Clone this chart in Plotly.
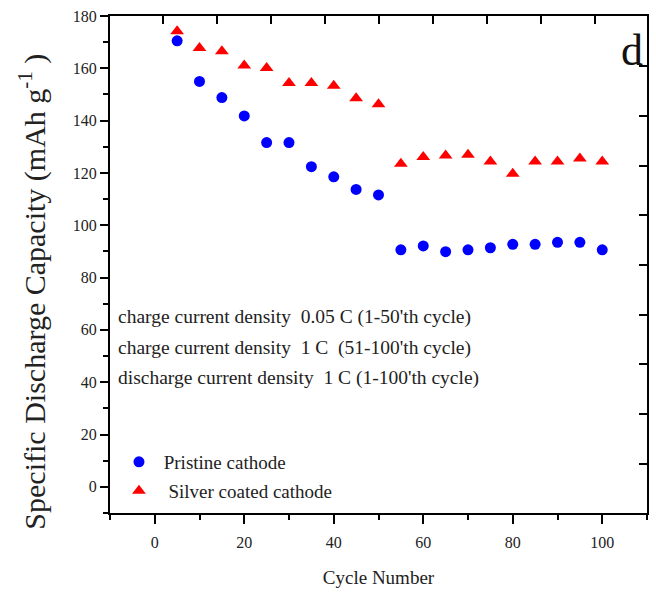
import plotly.graph_objects as go

cycles = [5, 10, 15, 20, 25, 30, 35, 40, 45, 50, 55, 60, 65, 70, 75, 80, 85, 90, 95, 100]
pristine = [170.5, 155.0, 148.8, 141.8, 131.6, 131.6, 122.4, 118.5, 113.7, 111.6,
            90.6, 92.1, 89.9, 90.6, 91.4, 92.7, 92.7, 93.5, 93.5, 90.6]
silver = [174.2, 167.8, 166.5, 161.1, 160.1, 154.4, 154.4, 153.3, 148.6, 146.3,
          123.5, 126.1, 126.7, 127.0, 124.4, 119.7, 124.4, 124.4, 125.5, 124.4]

notes = ["charge current density  0.05 C (1-50'th cycle)",
         "charge current density  1 C  (51-100'th cycle)",
         "discharge current density  1 C (1-100'th cycle)"]

FONT = "Liberation Serif, Times New Roman, serif"
TXT = "#222222"

fig = go.Figure()
fig.add_trace(go.Scatter(x=cycles, y=pristine, mode="markers", name="\u00a0Pristine cathode",
                         marker=dict(symbol="circle", size=11, color="#0000ff"), legend="legend"))
fig.add_trace(go.Scatter(x=cycles, y=silver, mode="markers", name="\u00a0\u00a0Silver coated cathode",
                         marker=dict(symbol="triangle-up", size=12, color="#ff0000"), legend="legend2"))
# invisible trace to carry decorative top/right tick axes
fig.add_trace(go.Scatter(x=[None], y=[None], xaxis="x2", yaxis="y2", showlegend=False,
                         hoverinfo="skip"))

axis_common = dict(showgrid=False, zeroline=False, showline=True, linecolor="black",
                   linewidth=2, mirror=True, ticks="outside", tickcolor="black", tickwidth=1.5,
                   tickfont=dict(family=FONT, size=16, color=TXT))

fig.update_layout(
    width=656, height=593,
    margin=dict(l=110, r=7, t=16, b=80),
    paper_bgcolor="white", plot_bgcolor="white",
    xaxis=dict(range=[-10, 110], dtick=20, tick0=0, ticklen=9,
               minor=dict(dtick=10, tick0=0, ticklen=5, ticks="outside", tickcolor="black", tickwidth=1.5),
               title=dict(text="Cycle Number", font=dict(family=FONT, size=19, color=TXT), standoff=20),
               ticklabelstandoff=5,
               **axis_common),
    yaxis=dict(range=[-10, 180], dtick=20, tick0=0, ticklen=8,
               minor=dict(dtick=10, tick0=0, ticklen=5, ticks="outside", tickcolor="black", tickwidth=1.5),
               **axis_common),
    xaxis2=dict(overlaying="x", side="top", range=[-0.977, 8.96], dtick=1, tick0=0,
                ticks="inside", ticklen=8, tickwidth=1.5, tickcolor="black",
                showticklabels=False, showgrid=False, zeroline=False, showline=False),
    yaxis2=dict(overlaying="y", side="right", range=[-0.988, 9.01], dtick=1, tick0=0,
                ticks="inside", ticklen=8, tickwidth=1.5, tickcolor="black",
                showticklabels=False, showgrid=False, zeroline=False, showline=False),
    legend=dict(x=0.0167, y=0.1026, xanchor="left", yanchor="middle",
                bgcolor="rgba(0,0,0,0)", font=dict(family=FONT, size=19, color=TXT)),
    legend2=dict(x=0.0167, y=0.0443, xanchor="left", yanchor="middle",
                 bgcolor="rgba(0,0,0,0)", font=dict(family=FONT, size=19, color=TXT)),
    showlegend=True,
)

ys = [0.394, 0.332, 0.272]
for t, yv in zip(notes, ys):
    fig.add_annotation(text=t, x=0.011, y=yv, xref="paper", yref="paper", xanchor="left",
                       yanchor="middle", showarrow=False,
                       font=dict(family=FONT, size=19.5, color=TXT))

fig.add_annotation(text="Specific Discharge Capacity (mAh g<sup>-1</sup> )", textangle=-90,
                   x=-0.1447, y=0.446, xref="paper", yref="paper", xanchor="center",
                   yanchor="middle", showarrow=False, font=dict(family=FONT, size=30, color=TXT))

fig.add_annotation(text="d", x=0.972, y=0.93, xref="paper", yref="paper", xanchor="center",
                   yanchor="middle", showarrow=False, font=dict(family=FONT, size=44, color="#111111"))

fig.write_html("out.html")
